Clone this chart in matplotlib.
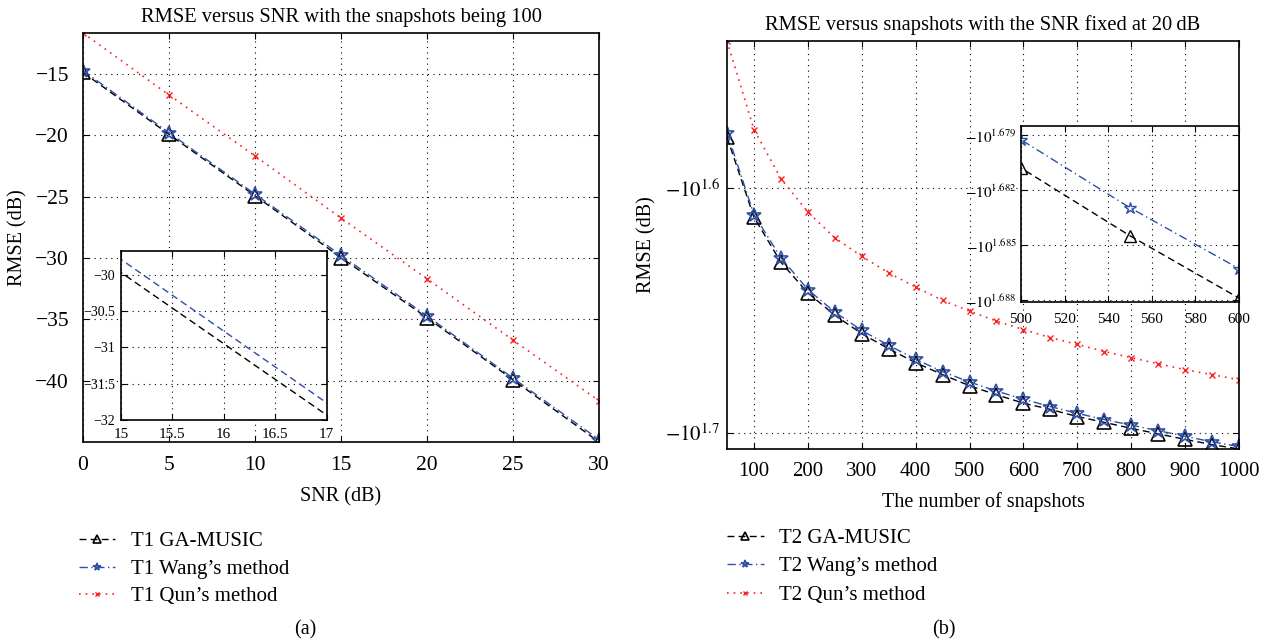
import numpy as np
import matplotlib
matplotlib.use("Agg")
import matplotlib.pyplot as plt
from matplotlib.ticker import FixedLocator, FuncFormatter, NullLocator

plt.rcParams['font.family'] = ['Liberation Serif', 'DejaVu Serif']
plt.rcParams['mathtext.fontset'] = 'stix'
plt.rcParams['axes.unicode_minus'] = True

# ---------------- data: panel (a) ----------------
snr = [0, 5, 10, 15, 20, 25, 30]
ga_a = [-14.88, -19.93, -24.93, -29.97, -34.87, -39.93, -45.0]
wang_a = [-14.73, -19.80, -24.80, -29.79, -34.72, -39.80, -44.80]
qun_a = [-11.67, -16.72, -21.69, -26.75, -31.70, -36.70, -41.64]
snr_ticks = [0, 5, 10, 15, 20, 25, 30]
rmse_ticks_a = [-40, -35, -30, -25, -20, -15]
inset_a_xticks = [15, 15.5, 16, 16.5, 17]
inset_a_yticks = [-32, -31.5, -31, -30.5, -30]

# ---------------- data: panel (b) ----------------
snapshots = [50, 100, 150, 200, 250, 300, 350, 400, 450, 500,
             550, 600, 650, 700, 750, 800, 850, 900, 950, 1000]
ga_b = [-37.95, -40.92, -42.69, -43.94, -44.87, -45.66, -46.31, -46.92, -47.45, -47.95,
        -48.36, -48.74, -49.03, -49.36, -49.63, -49.91, -50.17, -50.43, -50.68, -50.89]
wang_b = [-37.79, -40.82, -42.51, -43.80, -44.74, -45.52, -46.16, -46.77, -47.32, -47.78,
          -48.19, -48.56, -48.90, -49.21, -49.50, -49.76, -50.02, -50.28, -50.55, -50.77]
qun_b = [-34.67, -37.68, -39.46, -40.72, -41.72, -42.45, -43.12, -43.70, -44.25, -44.70,
         -45.12, -45.48, -45.83, -46.12, -46.43, -46.70, -46.97, -47.23, -47.45, -47.68]
snap_ticks = [100, 200, 300, 400, 500, 600, 700, 800, 900, 1000]
exp_ticks_b = [1.6, 1.7]
inset_b_xticks = [500, 520, 540, 560, 580, 600]
inset_b_exp_ticks = [1.679, 1.682, 1.685, 1.688]

labels_a = ['T1 GA-MUSIC', "T1 Wang\u2019s method", "T1 Qun\u2019s method"]
labels_b = ['T2 GA-MUSIC', "T2 Wang\u2019s method", "T2 Qun\u2019s method"]

BLUE = '#2f4fa8'
RED = '#ff2020'
grid_kw = dict(color='black', linestyle=(0, (1, 4)), linewidth=0.8)
DASH = (0, (5, 3))
DASHDOT = (0, (6, 2.5, 1, 2.5))
DOT = (0, (1, 3))


def style_axes(ax, labelsize, xpad=4, ypad=4):
    ax.tick_params(direction='in', which='both', top=True, right=True,
                   labelsize=labelsize, length=4, width=0.8)
    ax.tick_params(axis='x', pad=xpad)
    ax.tick_params(axis='y', pad=ypad)
    for s in ax.spines.values():
        s.set_linewidth(1.2)
    ax.grid(True, which='major', **grid_kw)


fig = plt.figure(figsize=(12.67, 6.43), dpi=100)

# ---------------- panel (a) ----------------
axa = fig.add_axes([0.0655, 0.3126, 0.4073, 0.6361])
la1, = axa.plot(snr, ga_a, linestyle=DASH, color='black', lw=1.0,
                marker='^', ms=10, mfc='none', mec='black', mew=1.2)
la2, = axa.plot(snr, wang_a, linestyle=DASHDOT, color=BLUE, lw=1.0,
                marker='*', ms=10, mfc='none', mec=BLUE, mew=1.2)
la3, = axa.plot(snr, qun_a, linestyle=DOT, color=RED, lw=1.2,
                marker='x', ms=4, mec=RED, mew=1.0)
axa.set_xlim(min(snr), max(snr))
axa.set_ylim(min(ga_a), max(qun_a))
axa.set_xticks(snr_ticks)
axa.set_yticks(rmse_ticks_a)
style_axes(axa, 15.5, xpad=10, ypad=10)
axa.set_title('RMSE versus SNR with the snapshots being 100', fontsize=14.8, pad=8)
axa.set_xlabel('SNR (dB)', fontsize=14.5, labelpad=9)
axa.set_ylabel('RMSE (dB)', fontsize=14.5, labelpad=6)

ina = fig.add_axes([0.0955, 0.3468, 0.1622, 0.2633])
ina.plot(snr, ga_a, linestyle=DASH, color='black', lw=1.0)
ina.plot(snr, wang_a, linestyle=DASH, color=BLUE, lw=1.0)
ina.set_xlim(15, 17)
ina.set_ylim(-32, -29.67)
ina.set_xticks(inset_a_xticks)
ina.set_xticklabels(['15', '15.5', '16', '16.5', '17'])
ina.set_yticks(inset_a_yticks)
ina.set_yticklabels(['\u221232', '\u221231.5', '\u221231', '\u221230.5', '\u221230'])
style_axes(ina, 11, xpad=6, ypad=4)
for lb in ina.get_yticklabels():
    lb.set_fontsize(10)

axa.legend([la1, la2, la3], labels_a, loc='upper left',
           bbox_to_anchor=(0.062, 0.173), bbox_transform=fig.transFigure,
           frameon=False, fontsize=15, handlelength=1.75, handletextpad=0.75,
           labelspacing=0.38, borderaxespad=0, borderpad=0, markerscale=0.55)
fig.text(0.2407, 0.0202, '(a)', fontsize=14.5, ha='center', va='center')

# ---------------- panel (b) ----------------
mag = lambda a: [-v for v in a]
axb = fig.add_axes([0.5738, 0.3017, 0.4041, 0.6345])
axb.set_yscale('log')
lb1, = axb.plot(snapshots, mag(ga_b), linestyle=DASH, color='black', lw=1.0,
                marker='^', ms=10, mfc='none', mec='black', mew=1.2)
lb2, = axb.plot(snapshots, mag(wang_b), linestyle=DASHDOT, color=BLUE, lw=1.0,
                marker='*', ms=10, mfc='none', mec=BLUE, mew=1.2)
lb3, = axb.plot(snapshots, mag(qun_b), linestyle=DOT, color=RED, lw=1.2,
                marker='x', ms=4, mec=RED, mew=1.0)
axb.set_xlim(min(snapshots), max(snapshots))
axb.set_ylim(max(mag(ga_b)), min(mag(qun_b)))
axb.set_xticks(snap_ticks)
axb.yaxis.set_major_locator(FixedLocator([10 ** e for e in exp_ticks_b]))
axb.yaxis.set_minor_locator(NullLocator())
axb.yaxis.set_major_formatter(FuncFormatter(
    lambda v, p: r'$-10^{%.1f}$' % np.log10(v)))
style_axes(axb, 15, xpad=9, ypad=5)
axb.set_title('RMSE versus snapshots with the SNR fixed at 20\u2009dB', fontsize=14.8, pad=8)
axb.set_xlabel('The number of snapshots', fontsize=14.5, labelpad=8)
axb.set_ylabel('RMSE (dB)', fontsize=14.5, labelpad=6)

inb = fig.add_axes([0.8058, 0.5303, 0.1721, 0.2737])
inb.set_yscale('log')
inb.plot(snapshots, mag(ga_b), linestyle=DASH, color='black', lw=1.0,
         marker='^', ms=9, mfc='none', mec='black', mew=1.0)
inb.plot(snapshots, mag(wang_b), linestyle=DASHDOT, color=BLUE, lw=1.0,
         marker='*', ms=9, mfc='none', mec=BLUE, mew=1.0)
inb.set_xlim(500, 600)
inb.set_ylim(10 ** 1.6881, 10 ** 1.6785)
inb.set_xticks(inset_b_xticks)
inb.yaxis.set_major_locator(FixedLocator([10 ** e for e in inset_b_exp_ticks]))
inb.yaxis.set_minor_locator(NullLocator())
inb.yaxis.set_major_formatter(FuncFormatter(
    lambda v, p: r'$-10^{%.3f}$' % np.log10(v)))
style_axes(inb, 11, xpad=8, ypad=3)
inb.set_facecolor('white')

axb.legend([lb1, lb2, lb3], labels_b, loc='upper left',
           bbox_to_anchor=(0.574, 0.178), bbox_transform=fig.transFigure,
           frameon=False, fontsize=15, handlelength=1.75, handletextpad=0.75,
           labelspacing=0.42, borderaxespad=0, borderpad=0, markerscale=0.55)
fig.text(0.745, 0.0202, '(b)', fontsize=14.5, ha='center', va='center')

fig.savefig('out.png', dpi=100)
